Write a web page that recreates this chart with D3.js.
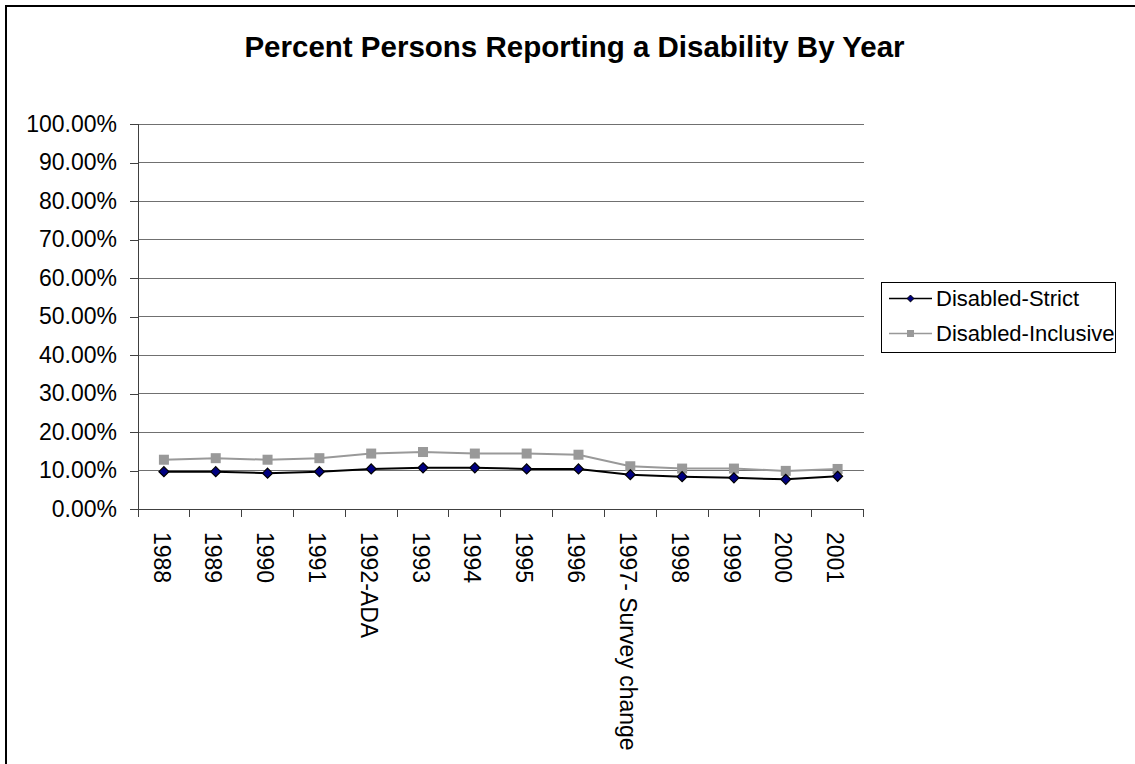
<!DOCTYPE html>
<html><head><meta charset="utf-8">
<script src="https://cdn.jsdelivr.net/npm/d3@7"></script>
<style>html,body{margin:0;padding:0;background:#fff;overflow:hidden}svg{display:block}text{font-family:"Liberation Sans",Arial,sans-serif}</style>
</head><body>
<script>
const categories = ["1988","1989","1990","1991","1992-ADA","1993","1994","1995","1996","1997- Survey change","1998","1999","2000","2001"];
const strictValues = [0.097,0.097,0.093,0.097,0.104,0.107,0.107,0.104,0.104,0.089,0.084,0.081,0.077,0.085];
const inclusiveValues = [0.128,0.132,0.128,0.132,0.144,0.148,0.144,0.144,0.141,0.111,0.105,0.105,0.099,0.104];
const yTicks = [0,0.1,0.2,0.3,0.4,0.5,0.6,0.7,0.8,0.9,1.0];
const seriesNames = ["Disabled-Strict","Disabled-Inclusive"];
const title = "Percent Persons Reporting a Disability By Year";

const W = 1135, H = 764;
const svg = d3.select("body").append("svg").attr("width", W).attr("height", H);
svg.append("rect").attr("x",0).attr("y",0).attr("width",W).attr("height",H).attr("fill","#fff");
svg.append("rect").attr("x",6).attr("y",6).attr("width",1180).attr("height",820)
  .attr("fill","none").attr("stroke","#000").attr("stroke-width",2);

svg.append("text").attr("x",574.5).attr("y",57).attr("text-anchor","middle")
  .attr("font-size",29.5).attr("font-weight","bold").text(title);

const L = 138, R = 863.5, T = 124, B = 509;
const x = d3.scaleBand().domain(categories).range([L,R]);
const y = d3.scaleLinear().domain([0,1]).range([B,T]);

// gridlines
svg.append("g").selectAll("line").data(yTicks.slice(1)).join("line")
  .attr("x1",L).attr("x2",R).attr("y1",d=>y(d)).attr("y2",d=>y(d))
  .attr("stroke","#707070").attr("stroke-width",1).attr("shape-rendering","crispEdges");

// y axis
const yAxis = svg.append("g").attr("transform",`translate(${L},0)`)
  .call(d3.axisLeft(y).tickValues(yTicks).tickFormat(d3.format(".2%")).tickSize(8).tickPadding(13));
yAxis.selectAll("path,line").attr("stroke","#404040").attr("stroke-width",1).attr("shape-rendering","crispEdges");
yAxis.select(".domain").attr("d",`M0,${T}V${B}`);
yAxis.selectAll("text").attr("font-size",23).attr("fill","#000")
  .attr("font-family","Liberation Sans, Arial, sans-serif");

// x axis
const tickPos = categories.map((c,i)=>x(c)).concat([R]);
const xg = svg.append("g");
xg.append("line").attr("x1",L).attr("x2",R).attr("y1",B).attr("y2",B)
  .attr("stroke","#404040").attr("stroke-width",1).attr("shape-rendering","crispEdges");
xg.selectAll("line.t").data(tickPos).join("line").attr("class","t")
  .attr("x1",d=>d).attr("x2",d=>d).attr("y1",B).attr("y2",B+8)
  .attr("stroke","#404040").attr("stroke-width",1).attr("shape-rendering","crispEdges");
xg.selectAll("text").data(categories).join("text")
  .attr("transform",d=>`translate(${x(d)+x.bandwidth()/2},532) rotate(90)`)
  .attr("dy","0.45em").attr("font-size",23).attr("text-anchor","start").text(d=>d);

// series
const cx = d=>x(d)+x.bandwidth()/2;
const line = vals => d3.line().x((v,i)=>cx(categories[i])).y(v=>y(v))(vals);
svg.append("path").attr("d",line(inclusiveValues)).attr("fill","none").attr("stroke","#999999").attr("stroke-width",2);
svg.append("path").attr("d",line(strictValues)).attr("fill","none").attr("stroke","#000").attr("stroke-width",2);

const sq = 10;
svg.append("g").selectAll("rect").data(inclusiveValues).join("rect")
  .attr("x",(v,i)=>cx(categories[i])-sq/2).attr("y",v=>y(v)-sq/2)
  .attr("width",sq).attr("height",sq).attr("fill","#999999");
const diamond = d3.symbol().type(d3.symbolDiamond2).size(64);
svg.append("g").selectAll("path").data(strictValues).join("path")
  .attr("transform",(v,i)=>`translate(${cx(categories[i])},${y(v)})`)
  .attr("d",diamond).attr("fill","#000080").attr("stroke","#000").attr("stroke-width",1.2);

// legend
const lg = svg.append("g");
lg.append("rect").attr("x",881).attr("y",282).attr("width",234).attr("height",70)
  .attr("fill","#fff").attr("stroke","#000").attr("stroke-width",1).attr("shape-rendering","crispEdges");
const rows = [
  {name:seriesNames[0], color:"#000", cy:298.5, type:"d"},
  {name:seriesNames[1], color:"#999999", cy:333.5, type:"s"}
];
rows.forEach(r=>{
  lg.append("line").attr("x1",889).attr("x2",932).attr("y1",r.cy).attr("y2",r.cy)
    .attr("stroke",r.color).attr("stroke-width",1.5);
  if(r.type==="d"){
    lg.append("path").attr("transform",`translate(910.5,${r.cy})`)
      .attr("d",d3.symbol().type(d3.symbolDiamond2).size(30)).attr("fill","#000080").attr("stroke","#000").attr("stroke-width",1);
  } else {
    lg.append("rect").attr("x",907).attr("y",r.cy-3.5).attr("width",7).attr("height",7).attr("fill","#999999");
  }
  lg.append("text").attr("x",936).attr("y",r.cy).attr("dy","0.36em").attr("font-size",22).text(r.name);
});
</script>
</body></html>
